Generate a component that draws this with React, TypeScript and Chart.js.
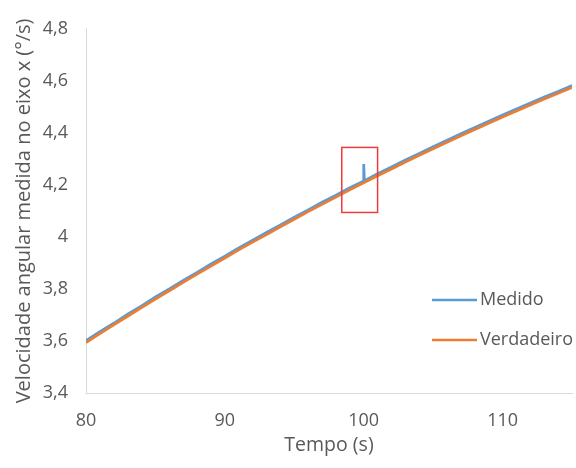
import React, { useEffect, useRef } from "react";
import { Chart, registerables } from "chart.js";

Chart.register(...registerables);

const TIME = [80, 81, 82, 83, 84, 85, 86, 87, 88, 89, 90, 91, 92, 93, 94, 95, 96, 97, 98, 99, 100, 101, 102, 103, 104, 105, 106, 107, 108, 109, 110, 111, 112, 113, 114, 115];
const VERDADEIRO = [3.594, 3.628, 3.662, 3.695, 3.728, 3.761, 3.793, 3.825, 3.857, 3.888, 3.919, 3.95, 3.98, 4.009, 4.039, 4.068, 4.097, 4.125, 4.153, 4.181, 4.208, 4.235, 4.261, 4.288, 4.314, 4.339, 4.364, 4.389, 4.413, 4.437, 4.461, 4.484, 4.507, 4.53, 4.552, 4.574];
const MEDIDO_TIME = [80, 81, 82, 83, 84, 85, 86, 87, 88, 89, 90, 91, 92, 93, 94, 95, 96, 97, 98, 99, 99.95, 100, 100.05, 101, 102, 103, 104, 105, 106, 107, 108, 109, 110, 111, 112, 113, 114, 115];
const MEDIDO = [3.601, 3.636, 3.668, 3.703, 3.735, 3.769, 3.8, 3.833, 3.864, 3.896, 3.926, 3.958, 3.987, 4.017, 4.046, 4.076, 4.104, 4.133, 4.16, 4.189, 4.214, 4.28, 4.216, 4.243, 4.269, 4.296, 4.321, 4.347, 4.372, 4.397, 4.421, 4.445, 4.469, 4.492, 4.515, 4.538, 4.559, 4.582];
const X_TICKS = [80, 90, 100, 110];
const Y_TICKS = [3.4, 3.6, 3.8, 4.0, 4.2, 4.4, 4.6, 4.8];
const HIGHLIGHT_X = [98.42, 101.0];
const HIGHLIGHT_Y = [4.094, 4.344];
const SERIES_NAMES = ["Medido", "Verdadeiro"];
const BLUE = "#5B9BD5";
const ORANGE = "#ED7D31";
const TEXT = "#595959";
const FONT = "'Open Sans', 'Noto Sans', sans-serif";

const fmt = (v: number) => {
  const r = Math.round(v * 10) / 10;
  return String(r).replace(".", ",");
};

const overlayPlugin = {
  id: "overlay",
  afterDatasetsDraw(chart: any) {
    const { ctx, scales } = chart;
    const x0 = scales.x.getPixelForValue(HIGHLIGHT_X[0]);
    const x1 = scales.x.getPixelForValue(HIGHLIGHT_X[1]);
    const y0 = scales.y.getPixelForValue(HIGHLIGHT_Y[1]);
    const y1 = scales.y.getPixelForValue(HIGHLIGHT_Y[0]);
    ctx.save();
    ctx.strokeStyle = "#EE3B3B";
    ctx.lineWidth = 1.5;
    ctx.strokeRect(x0, y0, x1 - x0, y1 - y0);
    ctx.restore();
  },
  afterDraw(chart: any) {
    const { ctx, chartArea } = chart;
    const colors = [BLUE, ORANGE];
    const lx = chartArea.right - 140;
    const ys = [300, 340];
    ctx.save();
    ctx.font = `18px ${FONT}`;
    ctx.textBaseline = "middle";
    ctx.fillStyle = TEXT;
    SERIES_NAMES.forEach((name, i) => {
      ctx.strokeStyle = colors[i];
      ctx.lineWidth = 2.5;
      ctx.beginPath();
      ctx.moveTo(lx, ys[i]);
      ctx.lineTo(lx + 45, ys[i]);
      ctx.stroke();
      ctx.fillText(name, lx + 48, ys[i]);
    });
    ctx.restore();
  },
};

export default function App() {
  const ref = useRef<HTMLCanvasElement>(null);
  useEffect(() => {
    if (!ref.current) return;
    const chart = new Chart(ref.current, {
      type: "line",
      data: {
        datasets: [
          {
            label: SERIES_NAMES[0],
            data: MEDIDO_TIME.map((t, i) => ({ x: t, y: MEDIDO[i] })),
            borderColor: BLUE,
            borderWidth: 2.7,
            pointRadius: 0,
            tension: 0,
            order: 1,
          },
          {
            label: SERIES_NAMES[1],
            data: TIME.map((t, i) => ({ x: t, y: VERDADEIRO[i] })),
            borderColor: ORANGE,
            borderWidth: 2.7,
            pointRadius: 0,
            tension: 0,
            order: 0,
          },
        ],
      },
      options: {
        animation: false,
        responsive: false,
        maintainAspectRatio: false,
        layout: { padding: { top: 8, right: 4, left: 0, bottom: 0 } },
        plugins: { legend: { display: false }, tooltip: { enabled: false } },
        scales: {
          x: {
            type: "linear",
            min: 80,
            max: 115,
            afterBuildTicks: (s: any) => {
              s.ticks = X_TICKS.map((v) => ({ value: v }));
            },
            afterFit: (s: any) => {
              s.height = 75;
            },
            grid: { display: false, drawTicks: false },
            border: { display: true, color: "#D9D9D9", width: 1 },
            ticks: {
              padding: 17,
              color: TEXT,
              font: { family: FONT, size: 18 },
              maxRotation: 0,
              callback: (v: any) => String(v),
            },
            title: {
              display: true,
              text: "Tempo (s)",
              color: TEXT,
              font: { family: FONT, size: 19.5 },
              padding: { top: 4, bottom: 11 },
            },
          },
          y: {
            type: "linear",
            min: 3.4,
            max: 4.8,
            afterBuildTicks: (s: any) => {
              s.ticks = Y_TICKS.map((v) => ({ value: v }));
            },
            afterFit: (s: any) => {
              s.width = 86;
            },
            grid: { display: false, drawTicks: false },
            border: { display: true, color: "#D9D9D9", width: 1 },
            ticks: {
              padding: 18,
              color: TEXT,
              font: { family: FONT, size: 18 },
              callback: (v: any) => fmt(Number(v)),
            },
            title: {
              display: true,
              text: "Velocidade angular medida no eixo x (°/s)",
              color: TEXT,
              font: { family: FONT, size: 20 },
              padding: { top: 12, bottom: 0 },
            },
          },
        },
      },
      plugins: [overlayPlugin],
    });
    return () => chart.destroy();
  }, []);
  return (
    <div style={{ position: "fixed", left: 0, top: 0, width: 576, height: 468, background: "#fff" }}>
      <canvas ref={ref} width={576} height={468} style={{ width: 576, height: 468 }} />
    </div>
  );
}
